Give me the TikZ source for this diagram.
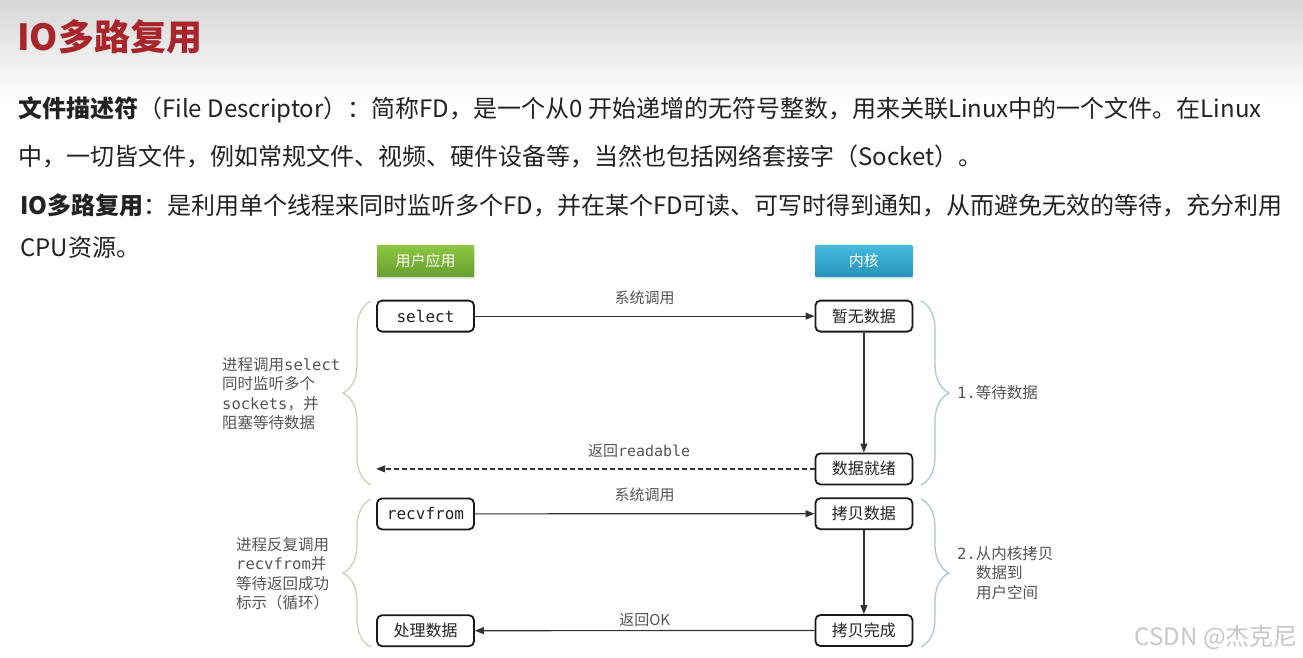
\documentclass[tikz,border=0pt]{standalone}
\usepackage{fontspec}
\setmainfont{Noto Sans CJK SC}
\setmonofont{DejaVu Sans Mono}
\usetikzlibrary{arrows.meta, positioning, decorations.pathreplacing, shadows}

\definecolor{titlered}{HTML}{A8262B}
\definecolor{bodytext}{HTML}{222222}
\definecolor{notegray}{HTML}{555555}
\definecolor{greentop}{HTML}{8DC63F}
\definecolor{greenbot}{HTML}{68A030}
\definecolor{bluetop}{HTML}{44BADD}
\definecolor{bluebot}{HTML}{2893BA}
\definecolor{userbrace}{HTML}{CDD1B5}
\definecolor{kernbrace}{HTML}{A7CAD8}

\begin{document}
\begin{tikzpicture}[x=1pt, y=-1pt,
        node distance=23pt and 341pt,
        header/.style={rectangle, minimum width=97pt, minimum height=31pt, inner sep=0pt, text=white, font=\fontsize{15}{18}\selectfont, drop shadow={opacity=0.2, shadow xshift=1pt, shadow yshift=-2pt}},
        actbox/.style={rectangle, rounded corners=5pt, minimum width=97pt, minimum height=31pt, inner sep=0pt, draw=black!90, line width=1.8pt, fill=white, text=bodytext, font=\fontsize{16}{19}\selectfont},
        callarrow/.style={draw=black!80, line width=1.2pt, -{Triangle[length=9pt, width=7pt]}},
        arrowlbl/.style={text=notegray, font=\fontsize{15}{18}\selectfont, inner sep=2pt},
        bracenote/.style={text=notegray, font=\fontsize{15.5}{19.5}\selectfont, align=left, inner sep=0pt},
        leftbrace/.style={draw=userbrace, line width=1.3pt, decorate, decoration={brace, amplitude=28pt, aspect=0.5}},
        rightbrace/.style={draw=kernbrace, line width=1.3pt, decorate, decoration={brace, amplitude=28pt, aspect=0.5}},
        para/.style={anchor=west, inner sep=0pt, text=bodytext, font=\fontsize{24}{28}\selectfont}
    ]
        \useasboundingbox (0,0) rectangle (1303,658);
        \fill[white] (0,0) rectangle (1303,658);
        \shade[top color=black!16, bottom color=white] (0,0) rectangle (1303,100);

        % Title and text
        \node (title) [anchor=west, inner sep=0pt, text=titlered, font=\fontsize{36}{42}\selectfont\bfseries] at (17,37) {IO多路复用};
        \node (fd1) [para] at (18,110) {\textbf{文件描述符}（File Descriptor）：简称FD，是一个从0 开始递增的无符号整数，用来关联Linux中的一个文件。在Linux};
        \node (fd2) [para] at (18,157) {中，一切皆文件，例如常规文件、视频、硬件设备等，当然也包括网络套接字（Socket）。};
        \node (mux1) [para] at (20,205) {\textbf{IO多路复用}：是利用单个线程来同时监听多个FD，并在某个FD可读、可写时得到通知，从而避免无效的等待，充分利用};
        \node (mux2) [para] at (20,247) {CPU资源。};

        % Nodes
        \node (user) [header, top color=greentop, bottom color=greenbot] at (425.5,261) {用户应用};
        \node (kernel) [header, top color=bluetop, bottom color=bluebot, right=of user] {内核};
        \node (select) [actbox, below=of user] {\texttt{select}};
        \node (nodata) [actbox, below=of kernel] {暂无数据};
        \node (ready) [actbox, below=120pt of nodata] {数据就绪};
        \node (copy) [actbox, below=12pt of ready] {拷贝数据};
        \node (recv) [actbox, below=165pt of select] {\texttt{recvfrom}};
        \node (done) [actbox, below=84pt of copy] {拷贝完成};
        \node (handle) [actbox, below=84pt of recv] {处理数据};
        \coordinate (retend) at (select.west |- ready);

        % Arrows
        \draw [callarrow] (select) -- node[arrowlbl, above=9pt] {系统调用} (nodata);
        \draw [callarrow] (nodata) -- (ready);
        \draw [callarrow, dash pattern=on 5pt off 3pt] (ready) -- node[arrowlbl, above=9pt, pos=0.4] {返回\texttt{readable}} (retend);
        \draw [callarrow] (recv) -- node[arrowlbl, above=9pt] {系统调用} (copy);
        \draw [callarrow] (copy) -- (done);
        \draw [callarrow] (done) -- node[arrowlbl, above=1pt] {返回OK} (handle);

        % Braces
        \draw [leftbrace] (371,485) -- (371,301);
        \draw [leftbrace] (371,647) -- (371,499);
        \draw [rightbrace] (921,301) -- (921,485);
        \draw [rightbrace] (921,499) -- (921,647);

        \node (waitnote) [bracenote, anchor=north west] at (222,357) {进程调用\texttt{select}\\同时监听多个\\\texttt{sockets}，并\\阻塞等待数据};
        \node (loopnote) [bracenote, anchor=north west] at (236,537) {进程反复调用\\\texttt{recvfrom}并\\等待返回成功\\标示（循环）};
        \node (step1) [bracenote, anchor=west] at (957,393) {\texttt{1.}等待数据};
        \node (step2) [bracenote, anchor=north west] at (957,546) {\texttt{2.}从内核拷贝\\\hspace*{19pt}数据到\\\hspace*{19pt}用户空间};

        \node (mark) [anchor=east, inner sep=0pt, text=black!22, font=\fontsize{24}{28}\selectfont] at (1298,637) {CSDN @杰克尼};
    \end{tikzpicture}
\end{document}
